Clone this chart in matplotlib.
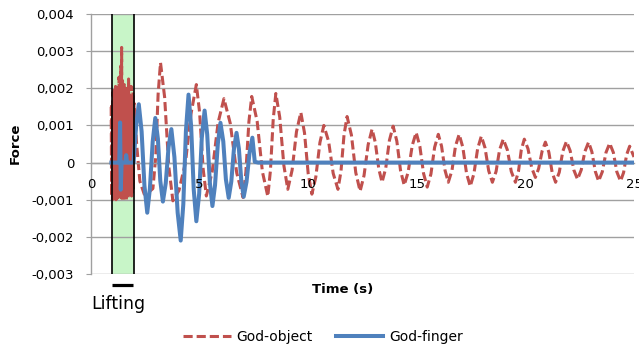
import numpy as np
import matplotlib
matplotlib.use("Agg")
import matplotlib.pyplot as plt

# ---------------- data (force values in units of 0.001) ----------------
object_t = [0.93,0.95,0.97,0.99,1.01,1.03,1.05,1.07,1.09,1.11,1.13,1.15,1.17,1.19,1.21,1.23,1.25,1.27,1.29,1.31,
            1.33,1.35,1.37,1.39,1.41,1.43,1.45,1.47,1.49,1.51,1.53,1.55,1.57,1.59,1.61,1.63,1.65,1.67,1.69,1.71,
            1.73,1.75,1.77,1.79,1.81,1.83,1.85,1.87,1.89,1.91,1.93,1.95,
            1.98,2.10,2.25,2.45,2.65,2.85,2.98,3.09,3.20,3.39,3.58,3.77,4.05,4.35,4.60,4.85,5.00,5.16,5.31,
            5.58,5.85,6.12,6.41,6.71,7.00,7.13,7.27,7.40,7.65,7.89,8.14,8.26,8.39,8.51,8.69,8.88,9.06,9.26,
            9.46,9.66,9.83,10.00,10.17,10.35,10.54,10.72,10.94,11.15,11.37,11.51,11.65,11.79,11.99,12.19,12.39,
            12.57,12.76,12.94,13.09,13.25,13.40,13.57,13.74,13.91,14.08,14.25,14.42,14.60,14.79,14.97,15.14,
            15.31,15.48,15.65,15.82,15.99,16.14,16.30,16.45,16.62,16.78,16.95,17.12,17.29,17.46,17.63,17.80,
            17.97,18.14,18.31,18.48,18.65,18.81,18.98,19.17,19.35,19.54,19.68,19.81,19.95,20.12,20.29,20.46,
            20.61,20.77,20.92,21.08,21.23,21.39,21.56,21.72,21.89,22.06,22.23,22.40,22.57,22.74,22.91,23.06,
            23.22,23.37,23.54,23.71,23.88,24.05,24.21,24.38,24.52,24.66,24.80,25.00]
object_f = [1.5,-0.9,1.6,-1.0,1.9,-0.8,2.0,-0.95,1.7,-0.9,2.05,-1.0,1.8,-0.85,2.1,-0.95,1.9,-0.9,2.3,-1.0,
            2.0,-0.85,2.6,-0.95,3.1,-0.9,2.2,-1.0,1.9,-0.85,2.1,-0.95,1.8,-0.9,2.0,-1.0,1.7,-0.85,2.0,-0.95,
            2.25,-0.9,1.9,-0.85,1.8,-0.95,2.05,-0.9,1.7,-0.8,1.9,-0.7,
            1.6,0.5,-0.5,-0.85,-0.8,-0.7,0.15,1.84,2.69,1.76,-0.10,-1.03,-0.75,0.0,1.3,2.10,1.35,-0.15,-0.90,
            -0.25,1.07,1.72,1.06,-0.28,-0.94,-0.26,1.10,1.78,1.11,-0.24,-0.91,-0.22,1.17,1.86,1.22,-0.08,-0.72,-0.20,
            0.83,1.35,0.80,-0.30,-0.85,-0.39,0.54,1.00,0.57,-0.29,-0.72,-0.23,0.75,1.24,0.74,-0.27,-0.77,
            -0.35,0.48,0.90,0.54,-0.17,-0.53,-0.15,0.60,0.98,0.58,-0.21,-0.61,-0.26,0.46,0.81,0.44,
            -0.29,-0.66,-0.31,0.41,0.76,0.44,-0.21,-0.53,-0.21,0.44,0.76,0.41,-0.29,-0.64,-0.30,0.37,
            0.71,0.40,-0.22,-0.53,-0.24,0.34,0.63,0.34,-0.24,-0.53,-0.24,0.34,0.63,0.37,-0.14,-0.40,
            -0.16,0.31,0.55,0.28,-0.26,-0.53,-0.26,0.30,0.57,0.32,-0.20,-0.45,-0.20,0.30,0.55,0.29,
            -0.24,-0.50,-0.25,0.27,0.52,0.27,-0.25,-0.50,-0.27,0.21,0.44,0.15]

finger_t = [0.94,1.30,1.34,1.37,1.41,1.58,1.62,1.66,1.96,2.08,2.20,2.33,2.46,2.59,2.71,2.84,2.96,3.08,3.19,3.31,
            3.44,3.57,3.70,3.84,3.99,4.13,4.25,4.37,4.49,4.61,4.73,4.85,4.98,5.10,5.23,5.35,5.47,5.59,5.71,5.84,
            5.96,6.09,6.21,6.34,6.46,6.58,6.70,6.81,6.92,7.03,7.16,7.30,7.43,7.54,7.70,25.0]
finger_f = [0,0,1.08,-0.73,0,0,0.20,0,0,1.0,1.57,0.84,-0.62,-1.35,-0.71,0.56,1.20,0.64,-0.49,-1.05,
            -0.56,0.41,0.90,0.15,-1.35,-2.10,-1.12,0.85,1.83,0.98,-0.73,-1.58,-0.84,0.66,1.40,0.76,-0.53,-1.17,-0.61,0.51,
            1.07,0.57,-0.45,-0.95,-0.51,0.36,0.80,0.37,-0.49,-0.92,-0.52,0.27,0.67,0.02,0,0]

lifting_span = (0.955, 1.97)
x_ticks = [0, 5, 10, 15, 20, 25]
x_ticklabels = ["0", "5", "10", "15", "20", "25"]
y_ticks = [-0.003, -0.002, -0.001, 0.0, 0.001, 0.002, 0.003, 0.004]
y_ticklabels = ["-0,003", "-0,002", "-0,001", "0", "0,001", "0,002", "0,003", "0,004"]
series_names = ["God-object", "God-finger"]

# ---------------- figure ----------------
W, H = 639, 348
fig = plt.figure(figsize=(W / 100, H / 100), dpi=100)
ax = fig.add_axes([91 / W, 1 - 274 / H, 543 / W, 260 / H])

RED = "#C0504D"
BLUE = "#4F81BD"
GRID = "#a0a0a0"

ax.axvspan(*lifting_span, color="#c8f5c8", zorder=0.2, lw=0)
for xv in lifting_span:
    ax.axvline(xv, color="black", lw=1.2, zorder=4)

obj_t = np.array(object_t)
obj_f = np.array(object_f) * 1e-3
fin_t = np.array(finger_t)
fin_f = np.array(finger_f) * 1e-3

l1, = ax.plot(obj_t, obj_f, color=RED, lw=2.2, ls=(0, (3.0, 1.3)),
              dash_capstyle="butt", zorder=2.5, label=series_names[0])
l2, = ax.plot(fin_t, fin_f, color=BLUE, lw=2.9, solid_joinstyle="round",
              zorder=3, label=series_names[1])

ax.set_xlim(0, 25)
ax.set_ylim(-0.003, 0.004)

ax.set_axisbelow(True)
ax.yaxis.grid(True, color=GRID, lw=1.0)
ax.xaxis.grid(False)
ax.xaxis.set_zorder(5)

for s in ["top", "right"]:
    ax.spines[s].set_visible(False)
ax.spines["left"].set_color(GRID)
ax.spines["left"].set_linewidth(1.0)
ax.spines["bottom"].set_position(("data", 0))
ax.spines["bottom"].set_color(GRID)
ax.spines["bottom"].set_linewidth(1.0)

ax.set_yticks(y_ticks)
ax.set_yticklabels(y_ticklabels)
ax.set_xticks(x_ticks)
ax.set_xticklabels(x_ticklabels)
ax.tick_params(axis="y", length=3.6, width=0.8, color=GRID, pad=8.6, labelsize=9.5)
ax.tick_params(axis="x", length=0, pad=11, labelsize=9.5)

# Lifting marker bar below the axes
ax.plot([0.97, 1.92], [-0.00329, -0.00329], color="black", lw=2.3, clip_on=False,
        solid_capstyle="butt")
fig.text(118 / W, 1 - 304 / H, "Lifting", ha="center", va="center", fontsize=12.5)

fig.text(15 / W, 1 - 143 / H, "Force", rotation=90, ha="center", va="center",
         fontsize=9.5, fontweight="bold")
fig.text(343 / W, 1 - 289 / H, "Time (s)", ha="center", va="center",
         fontsize=9.5, fontweight="bold")

fig.legend(handles=[l1, l2], loc="center", bbox_to_anchor=(323 / W, 1 - 337 / H),
           ncol=2, frameon=False, fontsize=10, handlelength=3.4, handletextpad=0.4,
           columnspacing=1.7)

fig.savefig("out.png", dpi=100)
